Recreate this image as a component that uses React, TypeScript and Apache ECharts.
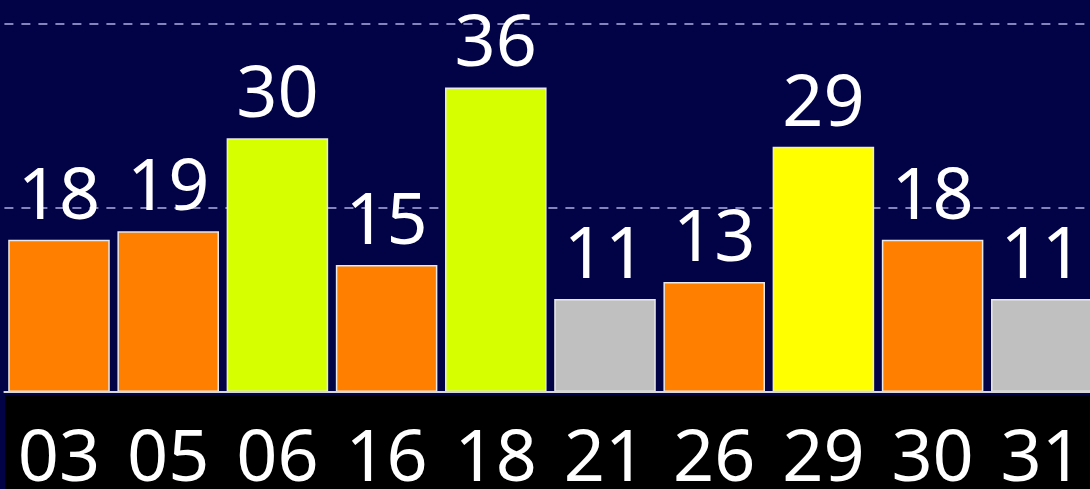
import React, { useEffect, useRef } from "react";
import * as echarts from "echarts";

const categories = ["03", "05", "06", "16", "18", "21", "26", "29", "30", "31"];
const values = [18, 19, 30, 15, 36, 11, 13, 29, 18, 11];
const barColors = [
  "#ff7f00", "#ff7f00", "#d6ff00", "#ff7f00", "#d6ff00",
  "#c0c0c0", "#ff7f00", "#ffff00", "#ff7f00", "#c0c0c0",
];

export default function App() {
  const ref = useRef<HTMLDivElement>(null);
  useEffect(() => {
    document.body.style.margin = "0";
    document.body.style.overflow = "hidden";
    const chart = echarts.init(ref.current!, null, { renderer: "svg" });
    chart.setOption({
      animation: false,
      backgroundColor: "#020246",
      graphic: [
        {
          type: "rect",
          z: -10,
          shape: { x: 5, y: 415, width: 1100, height: 100 },
          style: { fill: "#000000" },
        },
      ],
      grid: { left: 4.4, width: 1092, top: 0, bottom: 95, containLabel: false },
      xAxis: {
        type: "category",
        data: categories,
        z: 10,
        axisLine: { show: true, lineStyle: { color: "#d8d8d8", width: 2 } },
        axisTick: { show: false },
        axisLabel: {
          color: "#ffffff",
          fontSize: 72,
          fontFamily: "Noto Sans",
          margin: 25,
          interval: 0,
        },
      },
      yAxis: {
        type: "value",
        min: 0,
        max: 48.7,
        interval: 21.75,
        axisLabel: { show: false },
        axisLine: { show: false },
        axisTick: { show: false },
        splitLine: {
          show: true,
          lineStyle: { color: "#8484bc", width: 2.2, type: [9, 8] },
        },
      },
      series: [
        {
          type: "bar",
          z: 2,
          barCategoryGap: "7%",
          data: values.map((v, i) => ({
            value: v,
            itemStyle: { color: barColors[i] },
          })),
          itemStyle: { borderColor: "#e8e8e8", borderWidth: 1.5 },
          label: {
            show: true,
            position: "top",
            distance: 13,
            color: "#ffffff",
            fontSize: 72,
            fontFamily: "Noto Sans",
          },
        },
      ],
    });
    return () => chart.dispose();
  }, []);
  return (
    <div
      ref={ref}
      style={{ position: "absolute", left: 0, top: -20, width: 1100, height: 509 }}
    />
  );
}
